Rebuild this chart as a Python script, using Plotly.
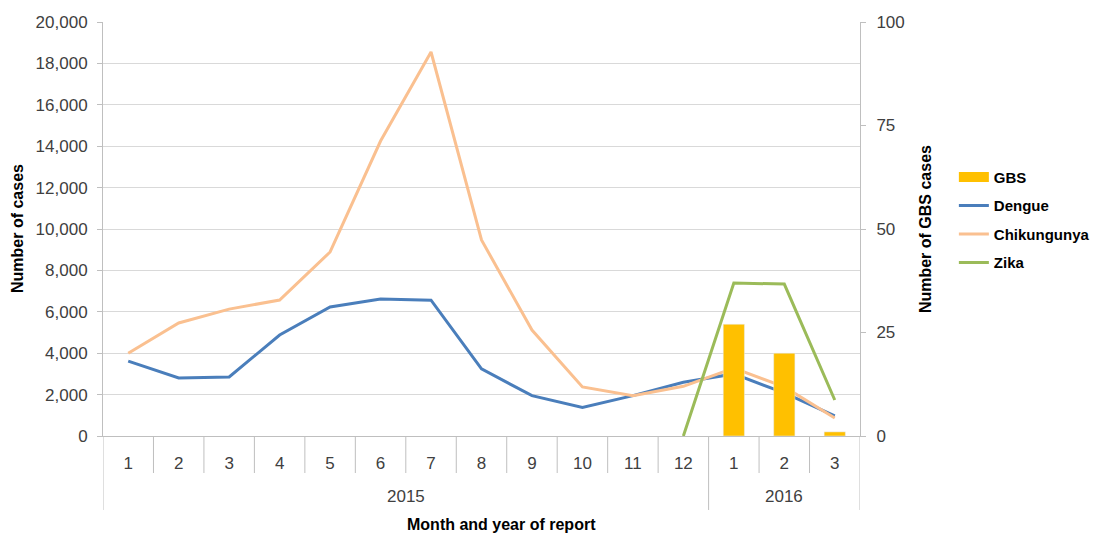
import plotly.graph_objects as go
from plotly.subplots import make_subplots

years = ['2015'] * 12 + ['2016'] * 3
months = ['1', '2', '3', '4', '5', '6', '7', '8', '9', '10', '11', '12', '1', '2', '3']

dengue = [3620, 2800, 2850, 4880, 6230, 6620, 6560, 3240, 1950, 1380, 1950, 2600, 3000, 2080, 970]
chikungunya = [4000, 5460, 6130, 6570, 8890, 14250, 18550, 9470, 5120, 2370, 1950, 2400, 3280, 2370, 870]
zika = [None] * 11 + [0, 7390, 7340, 1740]
gbs = [None] * 12 + [27, 20, 1]

idx = list(range(len(months)))
tick_font = dict(family='Liberation Sans Narrow, Liberation Sans, sans-serif', size=17, color='#404040')
title_font = dict(family='Liberation Sans, sans-serif', size=16, color='black', weight='bold')
grey = '#bfbfbf'

fig = make_subplots(specs=[[{'secondary_y': True}]])

fig.add_trace(go.Bar(x=idx, y=gbs, name='GBS', marker_color='#ffc000', width=0.42, legendgroup='a',
                     showlegend=False),
              secondary_y=True)
# wide swatch for GBS in the legend, like the original
fig.add_trace(go.Scatter(x=[None], y=[None], mode='lines', name='GBS', legendgroup='a',
                         line=dict(color='#ffc000', width=11)),
              secondary_y=True)
fig.add_trace(go.Scatter(x=idx, y=dengue, mode='lines', name='Dengue', legendgroup='b',
                         line=dict(color='#4a7ebb', width=3)),
              secondary_y=False)
fig.add_trace(go.Scatter(x=idx, y=chikungunya, mode='lines', name='Chikungunya', legendgroup='c',
                         line=dict(color='#fac090', width=3)),
              secondary_y=False)
fig.add_trace(go.Scatter(x=idx, y=zika, mode='lines', name='Zika', legendgroup='d',
                         line=dict(color='#9bbb59', width=3)),
              secondary_y=False)

# category dividers: month cells and year cells
shapes = []
for i in range(len(months) + 1):
    is_year_edge = i == 0 or i == len(months) or years[i] != years[i - 1]
    shapes.append(dict(type='line', xref='x', yref='paper', x0=i - 0.5, x1=i - 0.5,
                       y0=0, y1=-0.1787 if is_year_edge else -0.0894,
                       line=dict(color=grey, width=1)))

annotations = []
for yr in sorted(set(years)):
    pos = [i for i, y in enumerate(years) if y == yr]
    annotations.append(dict(x=sum(pos) / len(pos), y=-0.147, xref='x', yref='paper', text=yr,
                            showarrow=False, font=tick_font, xanchor='center', yanchor='middle'))
annotations += [
    dict(x=0.526, y=-0.213, xref='paper', yref='paper', text='Month and year of report',
         showarrow=False, font=title_font, xanchor='center', yanchor='middle'),
    dict(x=-0.1136, y=0.5, xref='paper', yref='paper', text='Number of cases', textangle=-90,
         showarrow=False, font=title_font, xanchor='center', yanchor='middle'),
    dict(x=1.086, y=0.5, xref='paper', yref='paper', text='Number of GBS cases', textangle=-90,
         showarrow=False, font=title_font, xanchor='center', yanchor='middle'),
]

fig.update_xaxes(range=[-0.5, len(months) - 0.5], domain=[0, 1], tickvals=idx, ticktext=months,
                 showgrid=False, showline=True, linecolor=grey, tickfont=tick_font,
                 ticklabelstandoff=12, automargin=False, zeroline=False)
fig.update_yaxes(range=[0, 20000], dtick=2000, tickformat=',', showgrid=True, gridcolor='#d9d9d9',
                 showline=True, linecolor=grey, ticks='outside', ticklen=5, tickcolor=grey,
                 tickfont=tick_font, ticklabelstandoff=6, zeroline=False, automargin=False,
                 secondary_y=False)
fig.update_yaxes(range=[0, 100], dtick=25, showgrid=False, showline=True, linecolor=grey,
                 ticks='outside', ticklen=5, tickcolor=grey, tickfont=tick_font,
                 ticklabelstandoff=7, zeroline=False, automargin=False, secondary_y=True)

# page body adds an 8px margin, so the figure is 8px smaller than the window
fig.update_layout(
    width=1092, height=525,
    margin=dict(l=95, r=240, t=14, b=97, autoexpand=False),
    plot_bgcolor='white', paper_bgcolor='white',
    shapes=shapes, annotations=annotations,
    legend=dict(x=1.124, y=0.665, xanchor='left', yanchor='top',
                font=dict(family='Liberation Sans, sans-serif', size=15, color='black', weight='bold'),
                tracegroupgap=6),
    showlegend=True,
)

fig.write_html('out.html')
